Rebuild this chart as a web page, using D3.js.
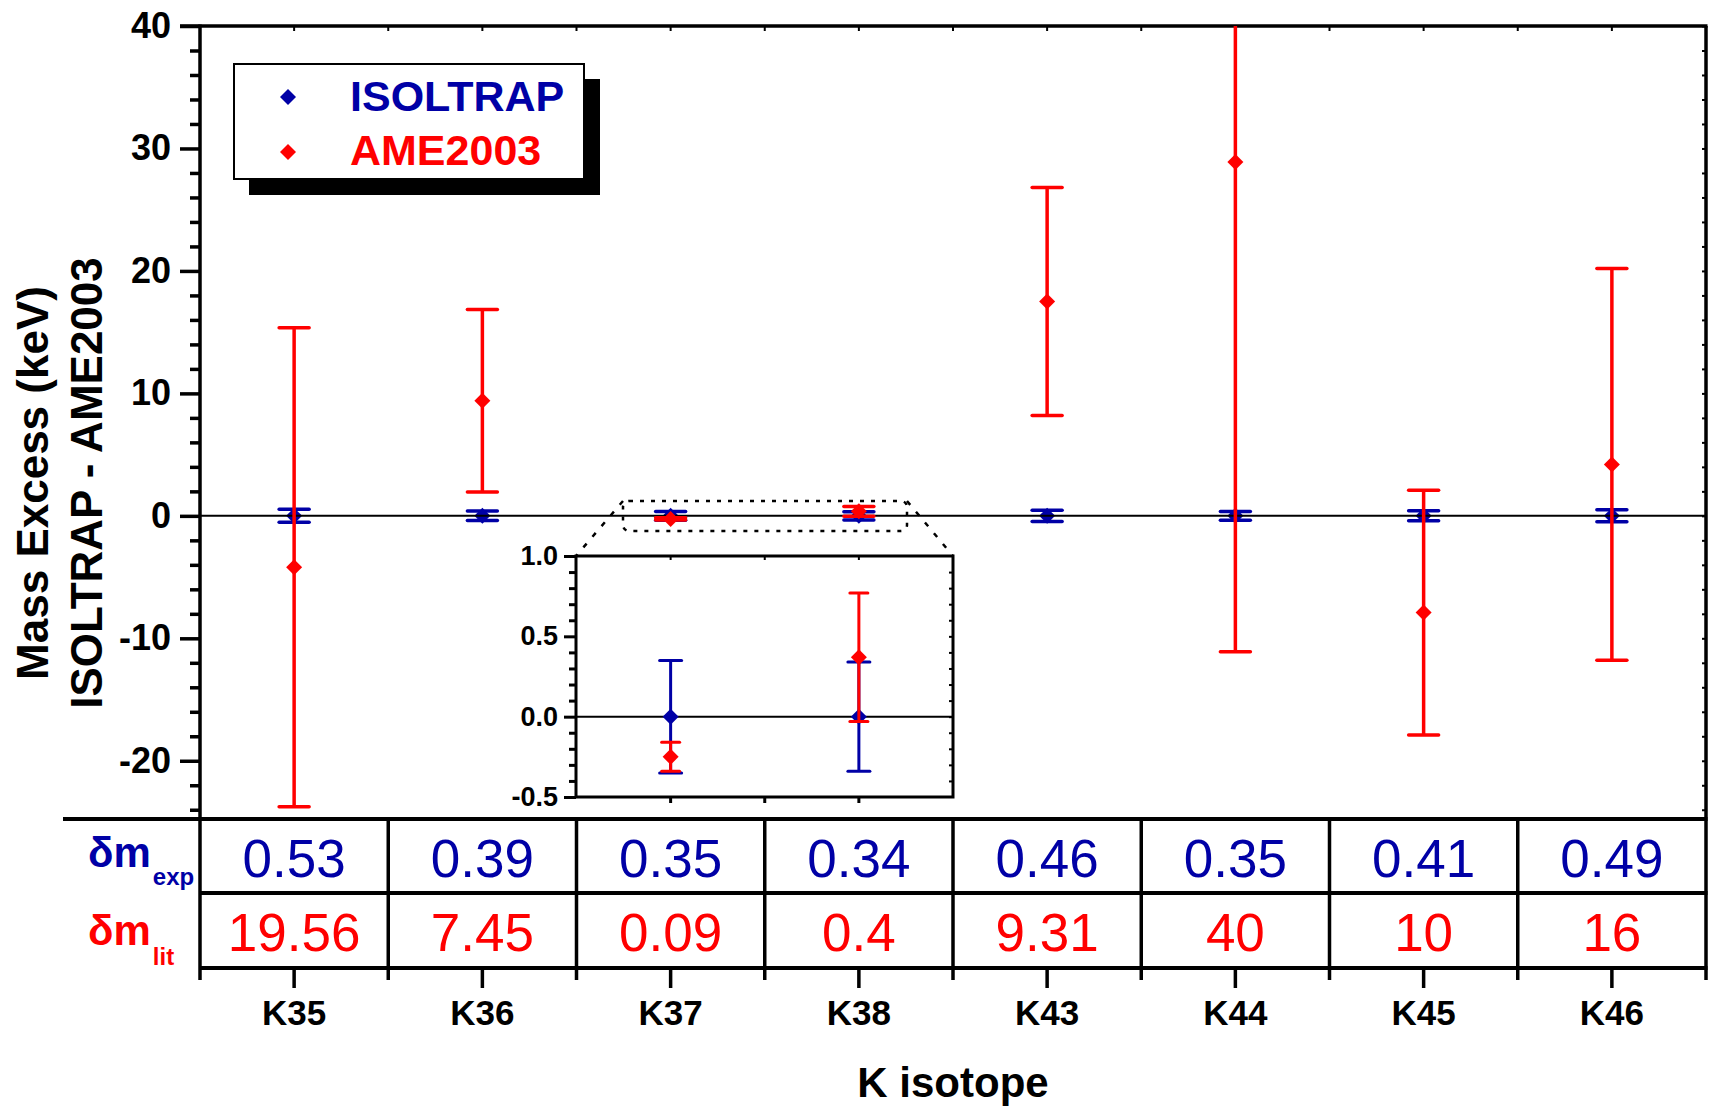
<!DOCTYPE html>
<html>
<head>
<meta charset="utf-8">
<script src="https://cdn.jsdelivr.net/npm/d3@7"></script>
<style>
  html, body { margin: 0; padding: 0; background: #fff; }
  svg { display: block; font-family: "Liberation Sans", Arial, Helvetica, sans-serif; }
</style>
</head>
<body>
<svg id="chart" width="1709" height="1106"></svg>
<script>
// Potassium isotopes and mass-excess differences (keV)
const categories = ["K35", "K36", "K37", "K38", "K43", "K44", "K45", "K46"];
const isoltrapValues = [0, 0, 0, 0, 0, 0, 0, 0];
const isoltrapErrors = [0.53, 0.39, 0.35, 0.34, 0.46, 0.35, 0.41, 0.49];
const ameValues = [-4.2, 9.4, -0.25, 0.37, 17.5, 28.9, -7.9, 4.2];
const ameErrors = [19.56, 7.45, 0.09, 0.4, 9.31, 40, 10, 16];
const expLabels = ["0.53", "0.39", "0.35", "0.34", "0.46", "0.35", "0.41", "0.49"];
const litLabels = ["19.56", "7.45", "0.09", "0.4", "9.31", "40", "10", "16"];
const yTicks = [-20, -10, 0, 10, 20, 30, 40];
const insetCategories = ["K37", "K38"];
const insetTicks = [-0.5, 0.0, 0.5, 1.0];

const BLUE = "#0000a6";
const RED = "#ff0000";
const INK = "#000";

const svg = d3.select("#chart");

// Layout
const pLeft = 200, pRight = 1706, pTop = 26, plotBottom = 819;
const rowMid = 893, tableBottom = 968;

const x = d3.scaleBand().domain(categories).range([pLeft, pRight]).padding(0);
const xc = c => x(c) + x.bandwidth() / 2;
const y = d3.scaleLinear().domain([-25, 40]).range([822, pTop]);

const diamond = d3.symbol().type(d3.symbolSquare).size(128);

// Clip for the main data region
svg.append("defs").append("clipPath").attr("id", "plotClip")
  .append("rect").attr("x", pLeft).attr("y", pTop).attr("width", pRight - pLeft).attr("height", plotBottom - pTop);

// ---- Y axis (left): major + minor ticks ----
const yMinor = d3.range(-24, 41, 2).filter(v => v % 10 !== 0);
const gyMinor = svg.append("g").attr("transform", `translate(${pLeft},0)`)
  .call(d3.axisLeft(y).tickValues(yMinor).tickSize(10).tickFormat(""));
const gy = svg.append("g").attr("transform", `translate(${pLeft},0)`)
  .call(d3.axisLeft(y).tickValues(yTicks).tickSize(20).tickPadding(9).tickFormat(d3.format("d")));
[gy, gyMinor].forEach(g => {
  g.select(".domain").remove();
  g.selectAll("line").attr("stroke", INK).attr("stroke-width", 3.5);
});
gy.selectAll("text").attr("font-size", 36).attr("font-weight", "bold").attr("fill", INK)
  .text(d => d < 0 ? "-" + Math.abs(d) : d);

// Right axis tiny inward ticks
const gyr = svg.append("g").attr("transform", `translate(${pRight},0)`)
  .call(d3.axisRight(y).tickValues(d3.range(-24, 41, 2)).tickSize(-4).tickFormat(""));
gyr.select(".domain").remove();
gyr.selectAll("line").attr("stroke", INK).attr("stroke-width", 2);

// Top axis tiny inward ticks at centres and boundaries
const topTickPos = [];
categories.forEach(c => { topTickPos.push(x(c)); topTickPos.push(xc(c)); });
topTickPos.push(pRight);
svg.append("g").selectAll("line").data(topTickPos).join("line")
  .attr("x1", d => d).attr("x2", d => d).attr("y1", pTop).attr("y2", pTop + 5)
  .attr("stroke", INK).attr("stroke-width", 2);

// Frame lines
svg.append("line").attr("x1", pLeft - 20).attr("x2", pRight + 1.5).attr("y1", pTop).attr("y2", pTop)
  .attr("stroke", INK).attr("stroke-width", 3.5);
svg.append("line").attr("x1", pLeft).attr("x2", pLeft).attr("y1", pTop - 1.5).attr("y2", 980)
  .attr("stroke", INK).attr("stroke-width", 3.5);
svg.append("line").attr("x1", pRight).attr("x2", pRight).attr("y1", pTop).attr("y2", 980)
  .attr("stroke", INK).attr("stroke-width", 3.5);

// ---- Data: ISOLTRAP (behind), zero line, AME2003 (front) ----
const dataG = svg.append("g").attr("clip-path", "url(#plotClip)");

function errorBars(g, cats, vals, errs, color, ys, capHalf, width) {
  const grp = g.append("g");
  cats.forEach((c, i) => {
    const cx = xc(c);
    const lo = ys(vals[i] - errs[i]), hi = ys(vals[i] + errs[i]);
    grp.append("line").attr("x1", cx).attr("x2", cx).attr("y1", lo).attr("y2", hi)
      .attr("stroke", color).attr("stroke-width", width);
    [lo, hi].forEach(yy => grp.append("line")
      .attr("x1", cx - capHalf).attr("x2", cx + capHalf).attr("y1", yy).attr("y2", yy)
      .attr("stroke", color).attr("stroke-width", width).attr("stroke-linecap", "round"));
  });
  grp.selectAll("path.mark").data(cats).join("path").attr("class", "mark")
    .attr("d", diamond)
    .attr("transform", (c, i) => `translate(${xc(c)},${ys(vals[i])}) rotate(45)`)
    .attr("fill", color);
}

errorBars(dataG, categories, isoltrapValues, isoltrapErrors, BLUE, y, 15, 3.5);
dataG.append("line").attr("x1", pLeft).attr("x2", pRight).attr("y1", y(0)).attr("y2", y(0))
  .attr("stroke", INK).attr("stroke-width", 2);
errorBars(dataG, categories, ameValues, ameErrors, RED, y, 15, 3.5);

// ---- Table of uncertainties ----
svg.append("line").attr("x1", 63).attr("x2", pRight + 1.5).attr("y1", plotBottom).attr("y2", plotBottom)
  .attr("stroke", INK).attr("stroke-width", 4);
svg.append("line").attr("x1", pLeft).attr("x2", pRight + 1.5).attr("y1", rowMid).attr("y2", rowMid)
  .attr("stroke", INK).attr("stroke-width", 4);
svg.append("line").attr("x1", pLeft).attr("x2", pRight + 1.5).attr("y1", tableBottom).attr("y2", tableBottom)
  .attr("stroke", INK).attr("stroke-width", 4);
svg.append("g").selectAll("line").data(categories.slice(1)).join("line")
  .attr("x1", c => x(c)).attr("x2", c => x(c)).attr("y1", plotBottom).attr("y2", 980)
  .attr("stroke", INK).attr("stroke-width", 3.5);

svg.append("g").selectAll("text").data(categories).join("text")
  .attr("x", xc).attr("y", 877).attr("text-anchor", "middle")
  .attr("font-size", 53).attr("fill", BLUE).text((c, i) => expLabels[i]);
svg.append("g").selectAll("text").data(categories).join("text")
  .attr("x", xc).attr("y", 951).attr("text-anchor", "middle")
  .attr("font-size", 53).attr("fill", RED).text((c, i) => litLabels[i]);

// Row labels: δm_exp and δm_lit
const rowLab1 = svg.append("text").attr("x", 88).attr("y", 867).attr("fill", BLUE).attr("font-weight", "bold");
rowLab1.append("tspan").attr("font-size", 42).text("δm");
rowLab1.append("tspan").attr("font-size", 24).attr("dy", 18).attr("dx", 2).text("exp");
const rowLab2 = svg.append("text").attr("x", 88).attr("y", 945).attr("fill", RED).attr("font-weight", "bold");
rowLab2.append("tspan").attr("font-size", 42).text("δm");
rowLab2.append("tspan").attr("font-size", 24).attr("dy", 20).attr("dx", 2).text("lit");

// ---- X axis (categories) below the table ----
const gx = svg.append("g").attr("transform", `translate(0,${tableBottom})`)
  .call(d3.axisBottom(x).tickSize(20).tickPadding(12));
gx.select(".domain").remove();
gx.selectAll("line").attr("stroke", INK).attr("stroke-width", 3.5);
gx.selectAll("text").attr("font-size", 35).attr("font-weight", "bold").attr("fill", INK);

svg.append("text").attr("x", (pLeft + pRight) / 2).attr("y", 1097).attr("text-anchor", "middle")
  .attr("font-size", 42).attr("font-weight", "bold").attr("fill", INK).text("K isotope");

// Y title (two lines)
svg.append("text").attr("transform", "translate(48,483) rotate(-90)").attr("text-anchor", "middle")
  .attr("font-size", 44).attr("font-weight", "bold").attr("fill", INK).text("Mass Excess (keV)");
svg.append("text").attr("transform", "translate(102,483) rotate(-90)").attr("text-anchor", "middle")
  .attr("font-size", 44).attr("font-weight", "bold").attr("fill", INK).text("ISOLTRAP - AME2003");

// ---- Legend ----
const lg = svg.append("g");
lg.append("rect").attr("x", 249).attr("y", 79).attr("width", 351).attr("height", 116).attr("fill", INK);
lg.append("rect").attr("x", 234).attr("y", 64).attr("width", 350).attr("height", 115)
  .attr("fill", "#fff").attr("stroke", INK).attr("stroke-width", 2);
lg.append("path").attr("d", diamond).attr("transform", "translate(288,97) rotate(45)").attr("fill", BLUE);
lg.append("path").attr("d", diamond).attr("transform", "translate(288,152) rotate(45)").attr("fill", RED);
lg.append("text").attr("x", 350).attr("y", 111).attr("font-size", 43).attr("font-weight", "bold")
  .attr("fill", BLUE).text("ISOLTRAP");
lg.append("text").attr("x", 350).attr("y", 165).attr("font-size", 43).attr("font-weight", "bold")
  .attr("fill", RED).text("AME2003");

// ---- Zoom region marker and inset ----
const iLeft = 576, iRight = 953, iTop = 556, iBottom = 797;
const zoomBox = { x0: 623, x1: 907, y0: 501, y1: 531 };
svg.append("rect").attr("x", zoomBox.x0).attr("y", zoomBox.y0)
  .attr("width", zoomBox.x1 - zoomBox.x0).attr("height", zoomBox.y1 - zoomBox.y0)
  .attr("rx", 6).attr("fill", "none").attr("stroke", INK).attr("stroke-width", 2.5)
  .attr("stroke-dasharray", "4 7");
svg.append("line").attr("x1", zoomBox.x0).attr("y1", zoomBox.y0).attr("x2", iLeft).attr("y2", iTop)
  .attr("stroke", INK).attr("stroke-width", 2.5).attr("stroke-dasharray", "5 9");
svg.append("line").attr("x1", zoomBox.x1).attr("y1", zoomBox.y0).attr("x2", iRight).attr("y2", iTop)
  .attr("stroke", INK).attr("stroke-width", 2.5).attr("stroke-dasharray", "5 9");

const yi = d3.scaleLinear().domain([-0.5, 1.0]).range([iBottom, iTop]);
const inset = svg.append("g");
inset.append("rect").attr("x", iLeft).attr("y", iTop).attr("width", iRight - iLeft).attr("height", iBottom - iTop)
  .attr("fill", "#fff").attr("stroke", INK).attr("stroke-width", 3);

const yiMinor = d3.range(-4, 10).map(k => k / 10).filter(v => Math.abs(v * 2 - Math.round(v * 2)) > 1e-6);
const giMinor = inset.append("g").attr("transform", `translate(${iLeft},0)`)
  .call(d3.axisLeft(yi).tickValues(yiMinor).tickSize(7).tickFormat(""));
const gi = inset.append("g").attr("transform", `translate(${iLeft},0)`)
  .call(d3.axisLeft(yi).tickValues(insetTicks).tickSize(12).tickPadding(6).tickFormat(d3.format(".1f")));
[gi, giMinor].forEach(g => {
  g.select(".domain").remove();
  g.selectAll("line").attr("stroke", INK).attr("stroke-width", 3);
});
gi.selectAll("text").attr("font-size", 27).attr("font-weight", "bold").attr("fill", INK)
  .text(d => d3.format(".1f")(d).replace("−", "-"));

const giRight = inset.append("g").attr("transform", `translate(${iRight},0)`)
  .call(d3.axisRight(yi).tickValues(d3.range(-4, 10).map(k => k / 10)).tickSize(-4).tickFormat(""));
giRight.select(".domain").remove();
giRight.selectAll("line").attr("stroke", INK).attr("stroke-width", 2);

const insetXTicks = [xc("K37"), (xc("K37") + xc("K38")) / 2, xc("K38")];
inset.append("g").selectAll("line").data(insetXTicks).join("line")
  .attr("x1", d => d).attr("x2", d => d).attr("y1", iBottom).attr("y2", iBottom + 6)
  .attr("stroke", INK).attr("stroke-width", 3);
inset.append("g").selectAll("line").data(insetXTicks).join("line")
  .attr("x1", d => d).attr("x2", d => d).attr("y1", iTop).attr("y2", iTop + 4)
  .attr("stroke", INK).attr("stroke-width", 2);

inset.append("line").attr("x1", iLeft).attr("x2", iRight).attr("y1", yi(0)).attr("y2", yi(0))
  .attr("stroke", INK).attr("stroke-width", 2);

const idx = insetCategories.map(c => categories.indexOf(c));
errorBars(inset, insetCategories, idx.map(i => isoltrapValues[i]), idx.map(i => isoltrapErrors[i]), BLUE, yi, 11, 3);
errorBars(inset, insetCategories, idx.map(i => ameValues[i]), idx.map(i => ameErrors[i]), RED, yi, 9, 3);
</script>
</body>
</html>
